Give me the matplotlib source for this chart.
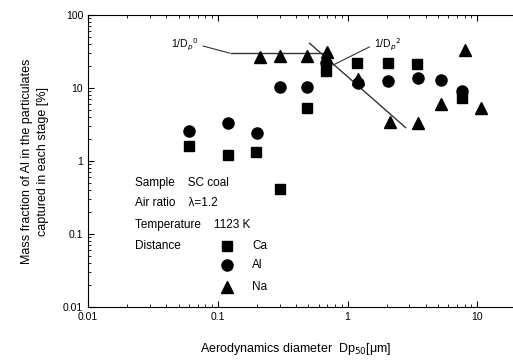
import matplotlib.pyplot as plt
from matplotlib.ticker import LogLocator, FixedLocator, NullFormatter

plt.rcParams['font.family'] = ['Liberation Sans', 'DejaVu Sans']

# data
ca_x = [0.060, 0.119, 0.197, 0.302, 0.486, 0.684, 1.19, 2.05, 3.42, 7.6]
ca_y = [1.62, 1.21, 1.32, 0.41, 5.3, 17.3, 22.2, 22.0, 21.3, 7.2]

al_x = [0.060, 0.119, 0.200, 0.300, 0.490, 0.680, 1.20, 2.05, 3.50, 5.27, 7.6]
al_y = [2.58, 3.35, 2.39, 10.4, 10.4, 21.7, 11.8, 12.5, 13.8, 12.9, 9.2]

na_x = [0.212, 0.300, 0.486, 0.690, 1.20, 2.13, 3.50, 5.27, 7.98, 10.6]
na_y = [26.3, 27.7, 27.7, 31.4, 13.2, 3.45, 3.28, 6.0, 33.2, 5.4]

flat_x = [0.127, 0.75]
flat_y = [30, 30]
slope_x = [0.51, 2.81]
slope_y = [41, 2.86]

yticks = [0.01, 0.1, 1, 10, 100]
ytick_labels = ['0.01', '0.1', '1', '10', '100']
xticks = [0.01, 0.1, 1, 10]
xtick_labels = ['0.01', '0.1', '1', '10']

fig = plt.figure(figsize=(5.13, 3.6), dpi=100)
ax = fig.add_axes([88 / 513, 53 / 360, 519 / 513, 292 / 360])
ax.set_xscale('log')
ax.set_yscale('log')
ax.set_xlim(0.01, 100)
ax.set_ylim(0.01, 100)

ax.plot(flat_x, flat_y, color='#333333', lw=1)
ax.plot(slope_x, slope_y, color='#333333', lw=1)

ax.plot(ca_x, ca_y, 's', color='black', ms=7, ls='none')
ax.plot(al_x, al_y, 'o', color='black', ms=8, ls='none')
ax.plot(na_x, na_y, '^', color='black', ms=9, ls='none')

# annotations for the slopes
ax.annotate('1/D$_p$$^0$', xy=(0.124, 30), xytext=(0.056, 39), fontsize=7.5,
            ha='center', va='center',
            arrowprops=dict(arrowstyle='-', color='#333333', lw=0.8,
                            relpos=(1, 0.5), shrinkA=1, shrinkB=0))
ax.annotate('1/D$_p$$^2$', xy=(0.774, 20.6), xytext=(2.02, 39), fontsize=7.5,
            ha='center', va='center',
            arrowprops=dict(arrowstyle='-', color='#333333', lw=0.8,
                            relpos=(0, 0.5), shrinkA=1, shrinkB=0))

# condition text block
ax.text(0.023, 0.50, 'Sample    SC coal', fontsize=8.5, va='center')
ax.text(0.023, 0.266, 'Air ratio    \u03bb=1.2', fontsize=8.5, va='center')
ax.text(0.023, 0.133, 'Temperature    1123 K', fontsize=8.5, va='center')
ax.text(0.023, 0.0685, 'Distance', fontsize=8.5, va='center')
ax.plot([0.118], [0.0685], 's', color='black', ms=7)
ax.plot([0.118], [0.0376], 'o', color='black', ms=8)
ax.plot([0.118], [0.0188], '^', color='black', ms=9)
ax.text(0.184, 0.0685, 'Ca', fontsize=8.5, va='center')
ax.text(0.184, 0.0376, 'Al', fontsize=8.5, va='center')
ax.text(0.184, 0.0188, 'Na', fontsize=8.5, va='center')

ax.xaxis.set_major_locator(FixedLocator(xticks))
ax.set_xticklabels(xtick_labels)
ax.yaxis.set_major_locator(FixedLocator(yticks))
ax.set_yticklabels(ytick_labels)
ax.xaxis.set_minor_locator(LogLocator(base=10, subs=range(2, 10), numticks=20))
ax.yaxis.set_minor_locator(LogLocator(base=10, subs=range(2, 10), numticks=20))
ax.xaxis.set_minor_formatter(NullFormatter())
ax.yaxis.set_minor_formatter(NullFormatter())
ax.tick_params(which='both', direction='in', top=True, right=False, labelsize=7.5)
ax.tick_params(which='major', length=4)
ax.tick_params(which='minor', length=2)
ax.spines['right'].set_visible(False)

ax.set_xlabel('Aerodynamics diameter  Dp$_{50}$[\u03bcm]', fontsize=9)
ax.xaxis.set_label_coords(0.4, -0.115)
ax.set_ylabel('Mass fraction of Al in the particulates\ncaptured in each stage [%]',
              fontsize=9, linespacing=1.4)
ax.yaxis.set_label_coords(-0.075, 0.5)

fig.savefig('out.png', dpi=100)
